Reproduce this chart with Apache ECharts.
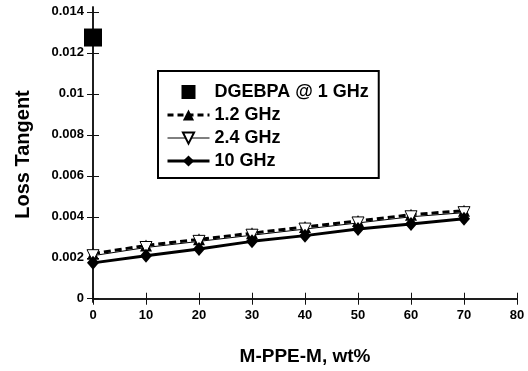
<!DOCTYPE html>
<html>
<head>
<meta charset="utf-8">
<script src="https://cdn.jsdelivr.net/npm/echarts@6/dist/echarts.min.js"></script>
<style>html,body{margin:0;padding:0;background:#fff}#c{width:528px;height:371px}</style>
</head>
<body>
<div id="c"></div>
<script>
const xValues = [0, 10, 20, 30, 40, 50, 60, 70];
const dgebpa = [[0, 0.01275]];
const ghz12 = [0.0022, 0.0026, 0.0029, 0.0032, 0.0035, 0.0038, 0.0041, 0.0043];
const ghz24 = [0.0021, 0.0025, 0.0028, 0.0031, 0.0034, 0.0037, 0.0040, 0.0042];
const ghz10 = [0.00175, 0.0021, 0.00243, 0.0028, 0.00308, 0.0034, 0.00365, 0.0039];
const yTicks = [0, 0.002, 0.004, 0.006, 0.008, 0.01, 0.012, 0.014];
const yTickLabels = ['0', '0.002', '0.004', '0.006', '0.008', '0.01', '0.012', '0.014'];
const seriesNames = ['DGEBPA @ 1 GHz', '1.2 GHz', '2.4 GHz', '10 GHz'];

const pair = arr => arr.map((v, i) => [xValues[i], v]);
const font = 'Liberation Sans, Arial, sans-serif';
const axisLine = { show: true, lineStyle: { color: '#111', width: 1.5 } };

const chart = echarts.init(document.getElementById('c'), null, { renderer: 'canvas' });
chart.setOption({
  animation: false,
  backgroundColor: '#fff',
  grid: { left: 93, right: 11, top: 7, bottom: 68, containLabel: false },
  legend: {
    orient: 'vertical',
    left: 158, top: 71,
    padding: [12, 10, 8, 8],
    itemGap: 5,
    itemWidth: 42,
    itemHeight: 14,
    borderColor: '#000', borderWidth: 2,
    data: [
      { name: seriesNames[0], icon: 'path://M0 0H10V10H0Z' },
      { name: seriesNames[1], lineStyle: { width: 3, type: [6, 4] } },
      { name: seriesNames[2], lineStyle: { width: 1 } },
      { name: seriesNames[3], lineStyle: { width: 3 } }
    ],
    textStyle: { fontFamily: font, fontWeight: 'bold', fontSize: 18, color: '#000' }
  },
  xAxis: [{
    type: 'value', position: 'bottom', min: 0, max: 80, interval: 10,
    axisLine: axisLine,
    axisTick: { show: true, inside: true, length: 6, lineStyle: { color: '#111' } },
    splitLine: { show: false },
    axisLabel: { fontFamily: font, fontWeight: 'bold', fontSize: 13, color: '#000', margin: 7 },
    name: 'M-PPE-M, wt%', nameLocation: 'middle', nameGap: 45,
    nameTextStyle: { fontFamily: font, fontWeight: 'bold', fontSize: 19, color: '#000' }
  }, {
    type: 'value', position: 'top', min: 0, max: 80, interval: 10,
    axisLine: axisLine,
    axisTick: { show: true, inside: true, length: 6, lineStyle: { color: '#111' } },
    splitLine: { show: false },
    axisLabel: { show: false }
  }],
  yAxis: [{
    type: 'value', position: 'left', min: -0.00016, max: 0.01424,
    axisLine: axisLine,
    axisTick: { show: true, inside: true, length: 6, customValues: yTicks, lineStyle: { color: '#111' } },
    splitLine: { show: false },
    axisLabel: {
      customValues: yTicks,
      formatter: v => { const i = yTicks.findIndex(t => Math.abs(t - v) < 1e-9); return i >= 0 ? yTickLabels[i] : ''; },
      fontFamily: font, fontWeight: 'bold', fontSize: 13, color: '#000', margin: 9
    },
    name: 'Loss Tangent', nameLocation: 'middle', nameGap: 60, nameRotate: 90,
    nameTextStyle: { fontFamily: font, fontWeight: 'bold', fontSize: 20, color: '#000' }
  }, {
    type: 'value', position: 'right', min: -0.00016, max: 0.01424,
    axisLine: axisLine,
    axisTick: { show: true, inside: true, length: 6, customValues: yTicks, lineStyle: { color: '#111' } },
    splitLine: { show: false },
    axisLabel: { show: false, customValues: yTicks }
  }],
  series: [{
    name: seriesNames[0], type: 'scatter', data: dgebpa,
    symbol: 'rect', symbolSize: 18, itemStyle: { color: '#000', opacity: 1 }, z: 5
  }, {
    name: seriesNames[1], type: 'line', data: pair(ghz12),
    symbol: 'triangle', symbolSize: 12, itemStyle: { color: '#000' },
    lineStyle: { color: '#000', width: 3, type: [7, 4] }, z: 2
  }, {
    name: seriesNames[2], type: 'line', data: pair(ghz24),
    symbol: 'triangle', symbolRotate: 180, symbolSize: 12,
    itemStyle: { color: '#fff', borderColor: '#000', borderWidth: 1 },
    lineStyle: { color: '#000', width: 1 }, z: 3
  }, {
    name: seriesNames[3], type: 'line', data: pair(ghz10),
    symbol: 'diamond', symbolSize: [12, 14], itemStyle: { color: '#000' },
    lineStyle: { color: '#000', width: 3 }, z: 4
  }]
});
</script>
</body>
</html>
